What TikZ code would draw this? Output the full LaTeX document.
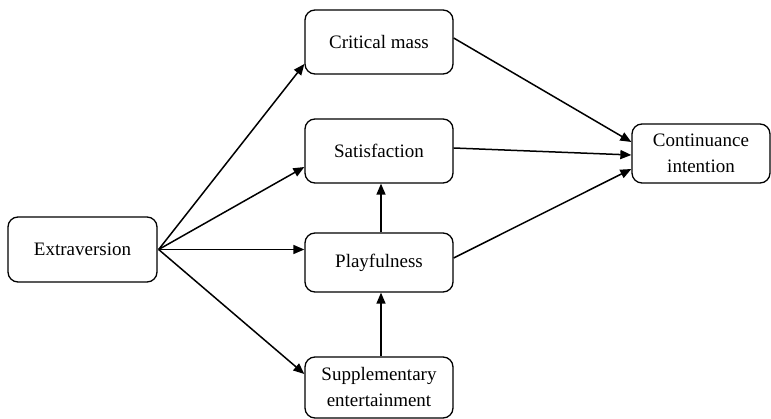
\documentclass[tikz,border=0pt]{standalone}
\usepackage{fontspec}
\setmainfont{Liberation Serif}
\usetikzlibrary{arrows.meta,calc}
\begin{document}
\begin{tikzpicture}[x=1pt,y=-1pt,
  box/.style={draw=black,line width=1.3pt,rounded corners=10pt,fill=white,
    minimum width=148pt,minimum height=64pt,align=center,inner sep=2pt,
    font=\fontsize{19}{26}\selectfont},
  arr/.style={line width=1.5pt,-{Triangle[length=11pt,width=9pt]}}]
\useasboundingbox (0,0) rectangle (771,419);
\node[box,minimum width=149pt,minimum height=65pt] (ext) at (82.5,249.5) {Extraversion};
\node[box] (cm) at (379,42) {Critical mass};
\node[box] (sat) at (379,151) {Satisfaction};
\node[box,minimum height=59pt] (play) at (379,262.5) {Playfulness};
\node[box,minimum height=61pt] (sup) at (379,387.5) {Supplementary\\entertainment};
\node[box,minimum width=138pt,minimum height=59pt] (ci) at (701,153.5) {Continuance\\intention};
\coordinate (o) at ([xshift=1pt]ext.east);
\draw[arr] (o) -- ([yshift=-22pt]cm.west);
\draw[arr] (o) -- ([yshift=-16pt]sat.west);
\draw[arr] (o) -- ([yshift=13pt]play.west);
\draw[arr] (o) -- ([yshift=13.5pt]sup.west);
\draw[arr] ([yshift=4pt]cm.east) -- ([yshift=11.5pt]ci.west);
\draw[arr] ([yshift=3pt]sat.east) -- ([yshift=-1.5pt]ci.west);
\draw[arr] ([yshift=4.5pt]play.east) -- ([yshift=-15.5pt]ci.west);
\draw[arr] ([xshift=2pt]play.north) -- ([xshift=2pt]sat.south);
\draw[arr] ([xshift=2pt]sup.north) -- ([xshift=2pt]play.south);
\end{tikzpicture}
\end{document}
